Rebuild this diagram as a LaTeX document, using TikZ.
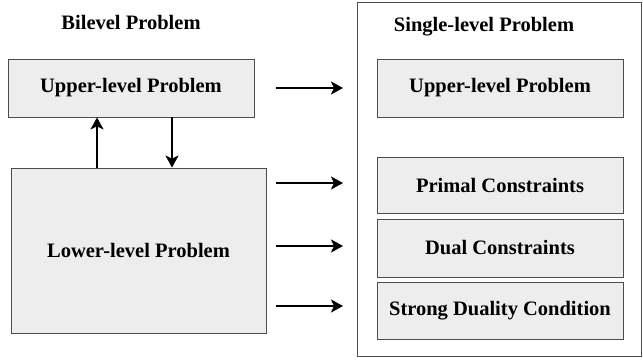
\documentclass[tikz,border=0pt]{standalone}
\usepackage{fontspec}
\setmainfont{Liberation Serif}
\usetikzlibrary{arrows.meta}
\begin{document}
\begin{tikzpicture}[x=1pt,y=-1pt,
  box/.style={draw=black!70,line width=0.8pt,fill=black!7,inner sep=0pt},
  lbl/.style={font=\fontsize{20.5}{24}\selectfont\bfseries},
  arr/.style={-{Stealth[length=12pt,width=13pt,inset=3pt]},line width=2pt}]
\useasboundingbox (0,0) rectangle (643,361);
\node[lbl] (bt) at (131,22) {Bilevel Problem};
\node[box,minimum width=246pt,minimum height=58pt,lbl] (up) at (131,88) {Upper-level Problem};
\node[box,minimum width=255pt,minimum height=165pt,lbl] (low) at (138.5,250.5) {Lower-level Problem};
\node[draw=black!70,line width=0.8pt,minimum width=284pt,minimum height=354pt] (outer) at (499,179) {};
\node[lbl] (st) at (484,27) {Single-level Problem};
\node[box,minimum width=246pt,minimum height=58pt,lbl] (sup) at (500,88) {Upper-level Problem};
\node[box,minimum width=246pt,minimum height=56pt,lbl] (pc) at (500,185) {Primal Constraints};
\node[box,minimum width=246pt,minimum height=58pt,lbl] (dc) at (500,248) {Dual Constraints};
\node[box,minimum width=246pt,minimum height=57pt,lbl] (sd) at (500,310.5) {Strong Duality Condition};
\draw[arr] (low.north -| 97,0) -- (up.south -| 97,0);
\draw[arr] (up.south -| 172,0) -- (low.north -| 172,0);
\coordinate (a1) at (276,88); \coordinate (b1) at (343,88);
\coordinate (a2) at (276,183); \coordinate (b2) at (343,183);
\coordinate (a3) at (276,246); \coordinate (b3) at (343,246);
\coordinate (a4) at (276,306); \coordinate (b4) at (343,306);
\draw[arr] (a1) -- (b1);
\draw[arr] (a2) -- (b2);
\draw[arr] (a3) -- (b3);
\draw[arr] (a4) -- (b4);
\end{tikzpicture}
\end{document}
